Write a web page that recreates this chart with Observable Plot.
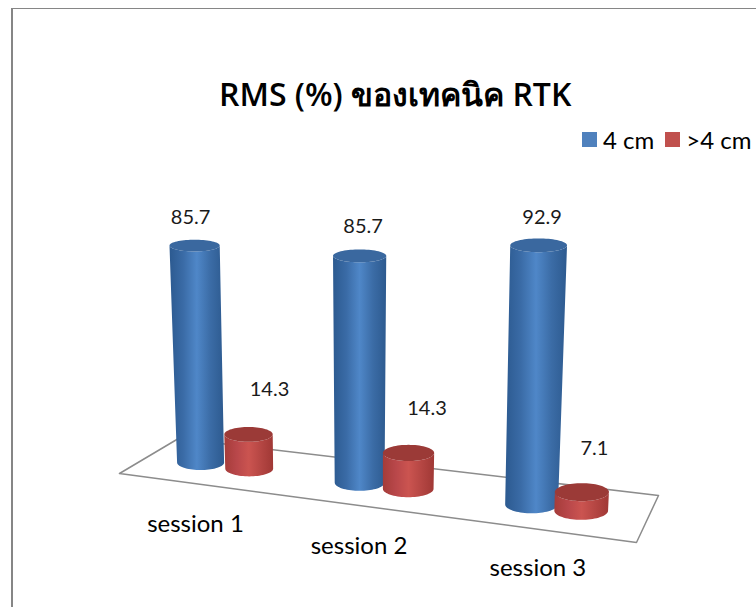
<!DOCTYPE html>
<html>
<head>
<meta charset="utf-8">
<script src="https://cdn.jsdelivr.net/npm/d3@7"></script>
<script src="https://cdn.jsdelivr.net/npm/@observablehq/plot@0.6"></script>
<style>
  html, body { margin: 0; padding: 0; background: #fff; }
  #page { position: relative; width: 756px; height: 607px; overflow: hidden; font-family: Lato, "Noto Sans", sans-serif; color: #000; }
  #frame { position: absolute; left: 11px; top: 8px; right: -4px; bottom: -4px; border: solid #868686; border-width: 1.5px 0 0 2px; }
  #head { position: relative; height: 190px; }
  #title { position: absolute; left: 219px; top: 69px; font-family: "Open Sans", sans-serif; font-size: 32px; font-weight: 600; white-space: nowrap; }
  #legend { position: absolute; left: 582px; top: 125px; font-size: 24px; display: flex; align-items: center; white-space: nowrap; }
  #legend i { display: inline-block; width: 15px; height: 15px; margin-right: 6px; }
  #legend span { margin-right: 11px; }
  svg { display: block; position: relative; }
</style>
</head>
<body>
<div id="page">
  <div id="frame"></div>
  <div id="head">
    <div id="title"></div>
    <div id="legend"></div>
  </div>
  <div id="chart"></div>
</div>
<script>
// Chart values
const titleText = "RMS (%) ของเทคนิค RTK";
const sessions = ["session 1", "session 2", "session 3"];
const seriesNames = ["4 cm", ">4 cm"];
const cm4 = [85.7, 85.7, 92.9];
const over4 = [14.3, 14.3, 7.1];

// Series colours
const swatch = ["#4f81bd", "#c0504d"];
const capColor = ["#3a689f", "#9b3a37"];
const textColor = "#1a1a1a";

// Camera: the floor is a quadrilateral in screen space, bars rise off it with perspective.
const width = 756, height = 417, headHeight = 190;
const floor = {fl: [119, 473], fr: [636, 542], br: [658, 495], bl: [178, 438]};
const sessionU = [0.151, 0.47, 0.815];
const seriesDU = [-0.0475, 0.05];
const vanishX = 359;

function onFloor(u, v) {
  const a = [floor.fl[0] + (floor.fr[0] - floor.fl[0]) * u, floor.fl[1] + (floor.fr[1] - floor.fl[1]) * u];
  const b = [floor.bl[0] + (floor.br[0] - floor.bl[0]) * u, floor.bl[1] + (floor.br[1] - floor.bl[1]) * u];
  return [a[0] + (b[0] - a[0]) * v, a[1] + (b[1] - a[1]) * v];
}

// Screen centre and ellipse radii of a disc at a given value above a floor point
function disc(base, value) {
  const depth = 1 + (base[1] - 462) * 0.00225;
  const rise = value * (2.33 + 0.00235 * value) * depth;
  const rx0 = 23.5 + (base[1] - 462) * 0.07;
  const ry0 = 7.5 + (base[1] - 462) * 0.035;
  return {
    x: vanishX + (base[0] - vanishX) * (1 + value * 0.00044),
    y: base[1] - rise,
    rx: rx0 * (1 + value * 0.0008),
    ry: ry0 * (1 - value * 0.0025)
  };
}

function arc(d, from, to, n = 36) {
  return d3.range(n + 1).map((i) => {
    const t = from + (to - from) * i / n;
    return {x: d.x + d.rx * Math.cos(t), y: d.y + d.ry * Math.sin(t)};
  });
}

const bars = sessions.flatMap((s, i) => [cm4[i], over4[i]].map((value, j) => {
  const base = onFloor(sessionU[i] + seriesDU[j] + (j === 1 && i === 2 ? 0.002 : 0), 0.5);
  return {session: s, i, j, value, bottom: disc(base, 0), top: disc(base, value)};
}));

const floorLine = [floor.fl, floor.fr, floor.br, floor.bl, floor.fl].map(([x, y]) => ({x, y}));

// Cylinder wall: front half of the base, then back across the top disc
const wall = bars.flatMap((b, k) => [
  ...arc(b.bottom, Math.PI, 0),
  ...arc(b.top, 0, Math.PI)
].map((p) => ({...p, k, j: b.j})));
const cap = bars.flatMap((b, k) => arc(b.top, 0, 2 * Math.PI, 72).map((p) => ({...p, k, j: b.j})));

// Label placement relative to the top of each bar
const labelShift = [[[-4, -28], [21, -45]], [[3.5, -29], [18.5, -44]], [[3.5, -28], [12.5, -44]]];
const sessionShift = [[46, 7], [34, 4], [23, -2]];

const layers = bars.map((b, k) => [
  Plot.line(wall.filter((d) => d.k === k), {x: "x", y: "y", fill: `url(#wall${b.j})`, stroke: "none"}),
  Plot.line(cap.filter((d) => d.k === k), {x: "x", y: "y", fill: capColor[b.j], stroke: "none"})
]);

const chart = Plot.plot({
  width, height,
  margin: 0,
  style: {background: "transparent", overflow: "visible"},
  x: {domain: [0, width], range: [0, width], axis: null},
  y: {domain: [headHeight, headHeight + height], range: [0, height], axis: null},
  marks: [
    () => {
      const ns = "http://www.w3.org/2000/svg";
      const defs = document.createElementNS(ns, "defs");
      const shades = [
        ["#2c5a90", "#3a6ba6", "#4f87c8", "#3b6ca6", "#2d5a8f"],
        ["#a53c39", "#b8474a", "#cb5450", "#b54643", "#a03835"]
      ];
      shades.forEach((stops, j) => {
        const g = document.createElementNS(ns, "linearGradient");
        g.setAttribute("id", `wall${j}`);
        stops.forEach((c, n) => {
          const s = document.createElementNS(ns, "stop");
          s.setAttribute("offset", n / (stops.length - 1));
          s.setAttribute("stop-color", c);
          g.appendChild(s);
        });
        defs.appendChild(g);
      });
      return defs;
    },
    Plot.line(floorLine, {x: "x", y: "y", fill: "#fff", stroke: "#8c8c8c", strokeWidth: 1.5}),
    ...layers.flat(),
    Plot.text(bars, {
      x: (b) => b.top.x + labelShift[b.i][b.j][0],
      y: (b) => b.top.y + labelShift[b.i][b.j][1],
      text: (b) => b.value.toFixed(1),
      fontSize: 20, fill: textColor, fontFamily: "Lato"
    }),
    Plot.text(sessions, {
      x: (s, i) => onFloor(sessionU[i], -0.9)[0] + sessionShift[i][0],
      y: (s, i) => onFloor(sessionU[i], -0.9)[1] + sessionShift[i][1],
      text: (s) => s,
      fontSize: 24, fill: "#000", fontFamily: "Lato"
    })
  ]
});
document.getElementById("chart").appendChild(chart);

document.getElementById("title").textContent = titleText;
const legend = document.getElementById("legend");
seriesNames.forEach((name, j) => {
  const box = document.createElement("i");
  box.style.background = swatch[j];
  const label = document.createElement("span");
  label.textContent = name;
  legend.append(box, label);
});
</script>
</body>
</html>
